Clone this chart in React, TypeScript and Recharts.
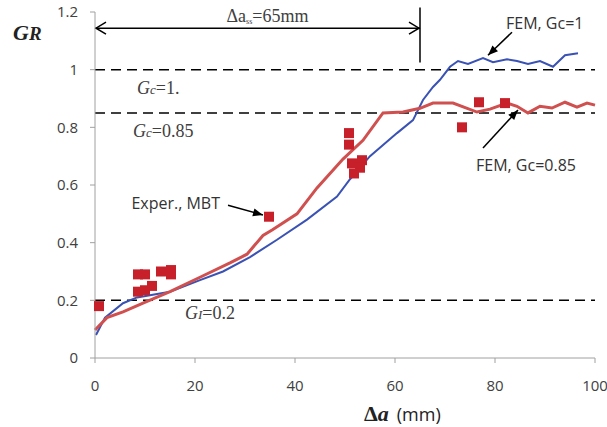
import { ComposedChart, Line, Scatter, XAxis, YAxis, ReferenceLine } from 'recharts';

// FEM, Gc=1 (blue)
const femGc1X = [0.2, 2, 5.6, 8.4, 15, 21, 25.6, 31, 36.4, 42.4, 48.4, 51, 55, 60.4, 63.6, 65.6, 67.6, 69, 71, 72.6, 74.6, 77.6, 79.6, 82.4, 84.4, 86.6, 89, 91.6, 94, 96.6];
const femGc1Y = [0.08, 0.14, 0.19, 0.21, 0.23, 0.27, 0.3, 0.35, 0.41, 0.48, 0.56, 0.62, 0.7, 0.78, 0.825, 0.895, 0.94, 0.965, 1.01, 1.03, 1.02, 1.04, 1.026, 1.036, 1.03, 1.02, 1.03, 1.01, 1.05, 1.057];

// FEM, Gc=0.85 (red)
const femGc085X = [0, 2.4, 5.6, 9.6, 15, 21, 27, 30.4, 33.6, 35.5, 40.4, 44.4, 49.6, 53.6, 57.6, 61.6, 65, 67.6, 71.6, 76.4, 79, 82.4, 84.4, 86.6, 89, 91.4, 94, 96.4, 98.4, 100];
const femGc085Y = [0.097, 0.14, 0.16, 0.19, 0.23, 0.28, 0.33, 0.36, 0.425, 0.445, 0.5, 0.59, 0.69, 0.755, 0.85, 0.853, 0.866, 0.884, 0.884, 0.853, 0.863, 0.884, 0.873, 0.85, 0.873, 0.867, 0.887, 0.87, 0.884, 0.877];

// Exper., MBT
const mbtX = [0.8, 8.6, 10, 8.6, 10, 11.4, 13.2, 15.2, 15.2, 34.8, 50.8, 50.8, 51.4, 53.4, 53, 51.8, 73.4, 76.8, 82];
const mbtY = [0.18, 0.29, 0.29, 0.23, 0.235, 0.25, 0.3, 0.305, 0.29, 0.49, 0.78, 0.74, 0.675, 0.686, 0.66, 0.64, 0.8, 0.887, 0.884];

const xTicks = [0, 20, 40, 60, 80, 100];
const yTicks = [0, 0.2, 0.4, 0.6, 0.8, 1, 1.2];

const toPts = (xs: number[], ys: number[]) => xs.map((x, i) => ({ x, y: ys[i] }));
const femGc1 = toPts(femGc1X, femGc1Y);
const femGc085 = toPts(femGc085X, femGc085Y);
const mbt = toPts(mbtX, mbtY);

const SERIF = '"Liberation Serif", "Times New Roman", serif';
const SANS = '"Open Sans", sans-serif';

function head(x1: number, y1: number, x2: number, y2: number, len = 10, half = 4) {
  const L = Math.hypot(x2 - x1, y2 - y1);
  const ux = (x2 - x1) / L;
  const uy = (y2 - y1) / L;
  const bx = x2 - ux * len;
  const by = y2 - uy * len;
  return `${x2},${y2} ${bx - uy * half},${by + ux * half} ${bx + uy * half},${by - ux * half}`;
}

// callout arrow, text placed relative to the tail
const callout = (label: string, dx: number, dy: number, anchor: 'start' | 'end') => (p: any) => {
  const { x1, y1, x2, y2 } = p;
  return (
    <g>
      <line x1={x1} y1={y1} x2={x2} y2={y2} stroke="#000" strokeWidth={1.5} />
      <polygon points={head(x1, y1, x2, y2)} fill="#000" />
      <text x={x1 + dx} y={y1 + dy} textAnchor={anchor} fontFamily={SANS} fontSize={16} fill="#333">
        {label}
      </text>
    </g>
  );
};

const dimArrow = (p: any) => {
  const { x1, y1, x2, y2 } = p;
  return (
    <g>
      <line x1={x1} y1={y1} x2={x2} y2={y2} stroke="#000" strokeWidth={1.5} />
      <polyline points={`${x1 + 11},${y1 - 6} ${x1 + 1},${y1} ${x1 + 11},${y1 + 6}`} fill="none" stroke="#000" strokeWidth={1.5} />
      <polyline points={`${x2 - 11},${y2 - 6} ${x2 - 1},${y2} ${x2 - 11},${y2 + 6}`} fill="none" stroke="#000" strokeWidth={1.5} />
      <text x={(x1 + x2) / 2 + 10} y={y1 - 6} textAnchor="middle" fontFamily={SERIF} fontSize={18} fill="#404040">
        Δa<tspan fontSize={8} dy={2}>ss</tspan><tspan dy={-2}>=65mm</tspan>
      </text>
    </g>
  );
};

const gLabel = (sub: string, rest: string, dx: number, dy: number) => (props: any) => {
  const vb = props.viewBox;
  return (
    <text x={vb.x + dx} y={vb.y + dy} fontFamily={SERIF} fontSize={18} fill="#404040">
      <tspan fontStyle="italic">G</tspan>
      <tspan fontStyle="italic" fontSize={13}>{sub}</tspan>
      <tspan>{rest}</tspan>
    </text>
  );
};

const square = (p: any) => <rect x={p.cx - 5} y={p.cy - 5} width={10} height={10} fill="#c8202a" />;

export default function App() {
  return (
    <div style={{ position: 'absolute', left: 0, top: 0, background: '#fff' }}>
      <ComposedChart width={607} height={427} margin={{ top: 12, right: 12, left: 0, bottom: 0 }}>
        <XAxis
          dataKey="x"
          type="number"
          domain={[0, 100]}
          ticks={xTicks}
          height={69}
          stroke="#a0a0a0"
          tickSize={5}
          tickMargin={17}
          tick={{ fill: '#404040', fontSize: 15, fontFamily: SANS }}
          label={{
            content: (props: any) => {
              const vb = props.viewBox;
              return (
                <text x={vb.x + 269} y={vb.y + 63} fill="#222">
                  <tspan fontFamily={SERIF} fontWeight="bold" fontSize={22}>Δ</tspan>
                  <tspan fontFamily={SERIF} fontWeight="bold" fontStyle="italic" fontSize={22}>a</tspan>
                  <tspan fontFamily={SANS} fontSize={18} dx={8}>(mm)</tspan>
                </text>
              );
            },
          }}
        />
        <YAxis
          dataKey="y"
          type="number"
          domain={[0, 1.2]}
          ticks={yTicks}
          width={95}
          stroke="#a0a0a0"
          tickSize={5}
          tickMargin={12}
          tickFormatter={(v: number) => String(v)}
          tick={{ fill: '#404040', fontSize: 15, fontFamily: SANS }}
          label={{
            content: (props: any) => {
              const vb = props.viewBox;
              return (
                <text x={13} y={vb.y + 28} fontFamily={SERIF} fontWeight="bold" fontStyle="italic" fill="#222">
                  <tspan fontSize={22}>G</tspan>
                  <tspan fontSize={19}>R</tspan>
                </text>
              );
            },
          }}
        />
        <ReferenceLine y={1} stroke="#000" strokeWidth={1.5} strokeDasharray="10 6" label={{ content: gLabel('c', '=1.', 42, 24) }} />
        <ReferenceLine y={0.85} stroke="#000" strokeWidth={1.5} strokeDasharray="10 6" label={{ content: gLabel('c', '=0.85', 38, 24) }} />
        <ReferenceLine y={0.2} stroke="#000" strokeWidth={1.5} strokeDasharray="10 6" label={{ content: gLabel('I', '=0.2', 90, 19) }} />
        <Line data={femGc1} dataKey="y" type="linear" stroke="#3a52b4" strokeWidth={2} dot={false} isAnimationActive={false} />
        <Line data={femGc085} dataKey="y" type="linear" stroke="#d0504f" strokeWidth={3} dot={false} isAnimationActive={false} />
        <Scatter data={mbt} dataKey="y" shape={square} isAnimationActive={false} />
        <ReferenceLine segment={[{ x: 0, y: 1.144 }, { x: 65, y: 1.144 }]} ifOverflow="visible" shape={dimArrow} />
        <ReferenceLine segment={[{ x: 65, y: 1.216 }, { x: 65, y: 1.025 }]} ifOverflow="visible" stroke="#000" strokeWidth={1.5} />
        <ReferenceLine segment={[{ x: 83.4, y: 1.13 }, { x: 78.6, y: 1.05 }]} ifOverflow="visible" shape={callout('FEM, Gc=1', -6, -3, 'start')} />
        <ReferenceLine segment={[{ x: 77.6, y: 0.728 }, { x: 84.6, y: 0.86 }]} ifOverflow="visible" shape={callout('FEM, Gc=0.85', -7, 23, 'start')} />
        <ReferenceLine segment={[{ x: 26.6, y: 0.53 }, { x: 33.6, y: 0.496 }]} ifOverflow="visible" shape={callout('Exper., MBT', -8, 4, 'end')} />
      </ComposedChart>
    </div>
  );
}
